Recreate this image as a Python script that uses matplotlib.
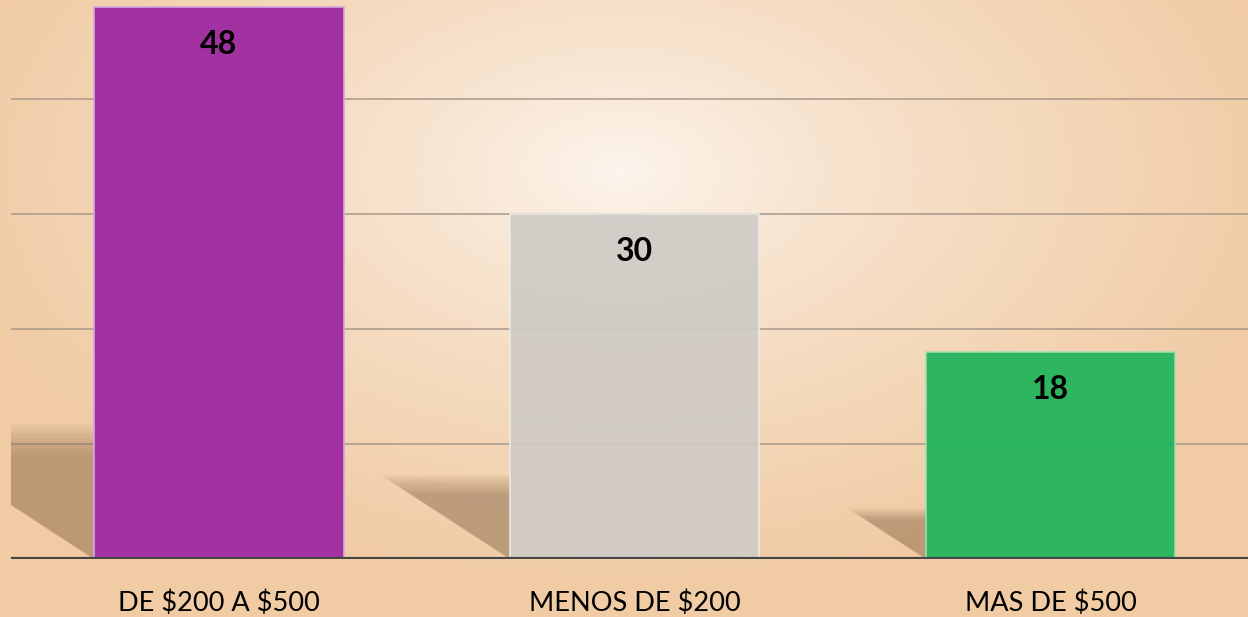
import matplotlib.pyplot as plt
import numpy as np
from matplotlib.colors import LinearSegmentedColormap
from matplotlib.patches import Polygon

# datos
categorias = ["DE \\$200 A \\$500", "MENOS DE \\$200", "MAS DE \\$500"]
valores = [48, 30, 18]
colores = ["#a232a2", "#cfcbc6", "#22b45c"]
bordes = ["#d7a6dc", "#eeece8", "#9ee0b4"]
alfas = [1.0, 0.92, 0.95]

fig = plt.figure(figsize=(12.48, 6.17), dpi=100)

# fondo con degradado radial
bg = fig.add_axes([0, 0, 1, 1])
bg.set_axis_off()
yy, xx = np.mgrid[0:617, 0:1248]
d = np.sqrt(((xx - 620) / 700.0) ** 2 + ((yy - 170) / 420.0) ** 2)
d = np.clip(d, 0, 1) ** 0.8
cmap = LinearSegmentedColormap.from_list("fondo", ["#fdf5ee", "#f6dfc6", "#f0cba4"])
bg.imshow(d, cmap=cmap, aspect="auto", extent=[0, 1, 0, 1], vmin=0, vmax=1)
bg.set_xlim(0, 1)
bg.set_ylim(0, 1)

ax = fig.add_axes([11 / 1248, 58 / 617, 1 - 11 / 1248, 559 / 617])
ax.patch.set_alpha(0)
x = np.arange(len(categorias))
ancho = 0.6

ax.set_xlim(-0.5, 2.475)
ax.set_ylim(0, 48.6)

# lineas de cuadricula
for g in [10, 20, 30, 40]:
    ax.axhline(g, color="#a8988a", linewidth=1.1, zorder=1)

# sombras de las barras (difuminadas con varias capas)
for i, v in enumerate(valores):
    h = 0.235 * v
    dx = h * 11.5 / 0.65 / 416
    xr = x[i] - ancho / 2
    for k in np.linspace(0.8, 1.04, 10):
        poly = Polygon([(xr - dx * k, h * k), (xr, h * k), (xr, 0)], closed=True,
                       facecolor="#7a5a3a", edgecolor="none", alpha=0.05, zorder=1.5)
        ax.add_patch(poly)

ax.bar(x, valores, width=ancho, color=colores, edgecolor=bordes, linewidth=1.2, zorder=2)
for b, a in zip(ax.patches[-3:], alfas):
    b.set_alpha(a)

# etiquetas de valor
for i, v in enumerate(valores):
    ax.annotate(f"{v}", (x[i], v), xytext=(0, -27), textcoords="offset points",
                ha="center", va="center", fontsize=23, fontweight="bold",
                family="Lato", color="black", zorder=3)

ax.axhline(0, color="#454545", linewidth=3, zorder=4)

ax.set_xticks(x)
ax.set_xticklabels(categorias, fontsize=19.5, family="Lato")
ax.tick_params(axis="x", length=0, pad=22.5)
ax.set_yticks([])
for s in ax.spines.values():
    s.set_visible(False)

plt.savefig("out.png", dpi=100)
plt.close()
